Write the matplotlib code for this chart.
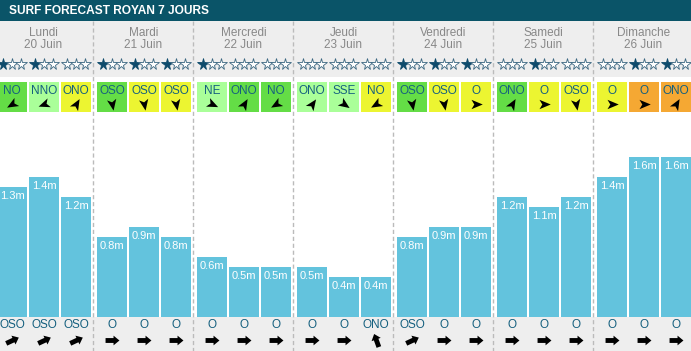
import matplotlib
matplotlib.use("Agg")
import matplotlib.pyplot as plt
from matplotlib.path import Path
from matplotlib.markers import MarkerStyle
from matplotlib.transforms import Affine2D
from matplotlib.patches import Rectangle

plt.rcParams['font.family'] = ['Liberation Sans', 'DejaVu Sans']

# ---------------- data ----------------
title = "SURF FORECAST ROYAN 7 JOURS"
days = ["Lundi", "Mardi", "Mercredi", "Jeudi", "Vendredi", "Samedi", "Dimanche"]
dates = ["20 Juin", "21 Juin", "22 Juin", "23 Juin", "24 Juin", "25 Juin", "26 Juin"]

wave_heights = [1.3, 1.4, 1.2,
                0.8, 0.9, 0.8,
                0.6, 0.5, 0.5,
                0.5, 0.4, 0.4,
                0.8, 0.9, 0.9,
                1.2, 1.1, 1.2,
                1.4, 1.6, 1.6]

stars = [1, 1, 0,
         1, 1, 1,
         1, 0, 0,
         0, 0, 0,
         1, 1, 1,
         0, 1, 0,
         0, 1, 1]

wind_dirs = ["NO", "NNO", "ONO",
             "OSO", "OSO", "OSO",
             "NE", "ONO", "NO",
             "ONO", "SSE", "NO",
             "OSO", "OSO", "O",
             "ONO", "O", "OSO",
             "O", "O", "ONO"]

wind_levels = ["green", "light", "yellow",
               "green", "yellow", "yellow",
               "light", "green", "green",
               "light", "light", "yellow",
               "green", "yellow", "yellow",
               "green", "yellow", "yellow",
               "yellow", "orange", "orange"]

# arrow orientation as drawn (degrees, counter-clockwise from pointing right)
wind_arrow_deg = [210, 200, 60,
                  -80, -80, -80,
                  -25, 60, 210,
                  55, -35, 210,
                  -80, -80, 0,
                  60, 0, -80,
                  0, 0, 60]

swell_dirs = ["OSO", "OSO", "OSO",
              "O", "O", "O",
              "O", "O", "O",
              "O", "O", "ONO",
              "OSO", "O", "O",
              "O", "O", "O",
              "O", "O", "O"]

swell_arrow_deg = [25, 25, 25,
                   0, 0, 0,
                   0, 0, 0,
                   0, 0, 110,
                   25, 0, 0,
                   0, 0, 0,
                   0, 0, 0]

# ---------------- styles ----------------
W, H = 691, 351
level_colors = {"green": "#64dd46", "light": "#aaff99",
                "yellow": "#ecf531", "orange": "#f5a833"}
title_bg = "#0a5468"
gray_bg = "#eeeeee"
bar_color = "#63c3dd"
text_blue = "#15607f"
star_color = "#0d4a6b"

day_w = 100.0
day_x0 = -6.5
slot_w = 32.0
slot_off = 3.5
bar_w = 30.0
baseline = 316.7
header_bottom = 77.0
title_h = 21.0

def slot_center(i):
    d, k = divmod(i, 3)
    return day_x0 + d * day_w + slot_off + k * slot_w + bar_w / 2

wind_path = Path([(1.0, 0.0), (-0.8, 0.75), (-0.35, 0.0), (-0.8, -0.75), (1.0, 0.0)],
                 [Path.MOVETO, Path.LINETO, Path.LINETO, Path.LINETO, Path.CLOSEPOLY])
swell_path = Path([(-1.0, -0.35), (0.15, -0.35), (0.15, -0.7), (1.0, 0.0),
                   (0.15, 0.7), (0.15, 0.35), (-1.0, 0.35), (-1.0, -0.35)],
                  [Path.MOVETO] + [Path.LINETO] * 6 + [Path.CLOSEPOLY])

def arrow_marker(path, ang):
    return MarkerStyle(path, transform=Affine2D().rotate_deg(ang))

fig = plt.figure(figsize=(W / 100, H / 100), dpi=100)
bg = fig.add_axes([0, 0, 1, 1])
bg.set_xlim(0, W)
bg.set_ylim(H, 0)
bg.axis("off")

# title bar and header/footer bands
bg.add_patch(Rectangle((0, 0), W, title_h, color=title_bg, lw=0))
bg.add_patch(Rectangle((0, title_h), W, header_bottom - title_h, color=gray_bg, lw=0))
bg.add_patch(Rectangle((0, baseline), W, H - baseline, color=gray_bg, lw=0))
bg.text(9, title_h / 2 + 0.5, title, color="white", fontweight="bold",
        fontsize=8.6, va="center", ha="left")

# day separators and labels
for d in range(len(days)):
    cx = day_x0 + d * day_w + day_w / 2
    bg.text(cx, 33, days[d], color="#888888", fontsize=8.5, ha="center", va="center")
    bg.text(cx, 45.5, dates[d], color="#888888", fontsize=8.5, ha="center", va="center")
    if d > 0:
        sx = day_x0 + d * day_w
        bg.plot([sx, sx], [title_h, H], color="#bbbbbb", lw=1, ls=(0, (3, 2)))

# stars, wind boxes, swell labels
for i in range(len(wave_heights)):
    cx = slot_center(i)
    for s in range(3):
        filled = s < stars[i]
        bg.plot(cx - 8.7 + s * 8.7, 63.5, marker="*", ms=8.5,
                mfc=star_color if filled else "white",
                mec=star_color if filled else "#3a6680", mew=0.6)
    bg.add_patch(Rectangle((cx - bar_w / 2, 82), bar_w, 30,
                           color=level_colors[wind_levels[i]], lw=0))
    bg.text(cx, 90.5, wind_dirs[i], color=text_blue, fontsize=8.5,
            ha="center", va="center")
    bg.plot(cx, 104, marker=arrow_marker(wind_path, wind_arrow_deg[i]),
            ms=9, color="black", mew=0)
    bg.text(cx, 325.5, swell_dirs[i], color=text_blue, fontsize=8.5,
            ha="center", va="center")
    bg.plot(cx, 340, marker=arrow_marker(swell_path, swell_arrow_deg[i]),
            ms=10, color="black", mew=0)

# bars in metres
bar_top_px = 116.7
ax = fig.add_axes([0, (H - baseline) / H, 1, (baseline - bar_top_px) / H])
ax.set_xlim(0, W)
ax.set_ylim(0, 2.0)
ax.patch.set_alpha(0)
ax.axis("off")
xs = [slot_center(i) for i in range(len(wave_heights))]
ax.bar(xs, wave_heights, width=bar_w, color=bar_color, lw=0)
for x, v in zip(xs, wave_heights):
    ax.annotate(f"{v:.1f}m", (x, v), xytext=(0, -9.5), textcoords="offset pixels",
                color="white", fontsize=8, ha="center", va="center")

fig.savefig("out.png", dpi=100)
